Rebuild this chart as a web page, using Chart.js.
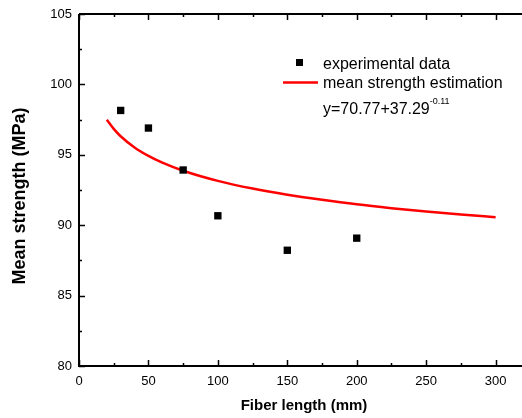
<!DOCTYPE html>
<html>
<head>
<meta charset="utf-8">
<script src="https://cdn.jsdelivr.net/npm/chart.js@4/dist/chart.umd.min.js"></script>
<style>
    html, body { margin: 0; padding: 0; background: #fff; }
    #wrap { width: 522px; height: 418px; position: relative; }
</style>
</head>
<body>
<div id="wrap"><canvas id="strengthChart"></canvas></div>
<script>
// ===========================
// Data
// ===========================

const fiberLength = [30, 50, 75, 100, 150, 200];
const meanStrength = [98.15, 96.9, 93.92, 90.67, 88.22, 89.08];

const fitLength = [20, 25, 30, 40, 50, 60, 75, 100, 125, 150, 175, 200, 225, 250, 275, 300];
const fitStrength = [97.49, 96.84, 96.32, 95.52, 94.92, 94.44, 93.87, 93.15, 92.6, 92.16, 91.8, 91.48, 91.21, 90.97, 90.76, 90.57];

const xTicks = [0, 50, 100, 150, 200, 250, 300];
const xMinorTicks = [25, 75, 125, 175, 225, 275];
const yTicks = [80, 85, 90, 95, 100, 105];
const yMinorTicks = [82.5, 87.5, 92.5, 97.5, 102.5];

const FONT = '"Liberation Sans", Arial, sans-serif';

// ===========================
// Frame, inward ticks, titles and legend
// ===========================

const framePlugin = {
    id: 'frame',
    afterDraw(chart) {
        const { ctx, chartArea: a, scales: { x, y } } = chart;
        ctx.save();
        ctx.strokeStyle = '#000';
        ctx.lineWidth = 2;
        ctx.beginPath();
        ctx.moveTo(a.left, a.top);
        ctx.lineTo(a.left, a.bottom);
        ctx.lineTo(chart.width, a.bottom);
        ctx.moveTo(a.left, a.top);
        ctx.lineTo(chart.width, a.top);
        ctx.stroke();

        ctx.lineWidth = 1.5;
        ctx.beginPath();
        const xTick = (v, len) => {
            const px = Math.round(x.getPixelForValue(v)) + 0.5;
            ctx.moveTo(px, a.bottom); ctx.lineTo(px, a.bottom - len);
            ctx.moveTo(px, a.top); ctx.lineTo(px, a.top + len);
        };
        const yTick = (v, len) => {
            const py = Math.round(y.getPixelForValue(v)) + 0.5;
            ctx.moveTo(a.left, py); ctx.lineTo(a.left + len, py);
        };
        xTicks.forEach(v => xTick(v, 6));
        xMinorTicks.forEach(v => xTick(v, 3));
        yTicks.forEach(v => yTick(v, 6));
        yMinorTicks.forEach(v => yTick(v, 3));
        ctx.stroke();

        // Axis titles
        ctx.fillStyle = '#000';
        ctx.textAlign = 'center';
        ctx.textBaseline = 'middle';
        ctx.font = 'bold 15px ' + FONT;
        ctx.fillText('Fiber length (mm)', 304, 406);
        ctx.save();
        ctx.translate(20.5, 196);
        ctx.rotate(-Math.PI / 2);
        ctx.font = 'bold 18px ' + FONT;
        ctx.fillText('Mean strength (MPa)', 0, 0);
        ctx.restore();

        // Legend
        ctx.fillStyle = '#000';
        ctx.fillRect(296, 59, 7, 7);
        ctx.strokeStyle = '#ff0000';
        ctx.lineWidth = 2.5;
        ctx.beginPath();
        ctx.moveTo(283, 82.5);
        ctx.lineTo(318, 82.5);
        ctx.stroke();

        ctx.textAlign = 'left';
        ctx.textBaseline = 'alphabetic';
        ctx.font = '16px ' + FONT;
        ctx.fillText('experimental data', 323, 69);
        ctx.fillText('mean strength estimation', 323, 88);
        ctx.fillText('y=70.77+37.29', 323, 114);
        const w = ctx.measureText('y=70.77+37.29').width;
        ctx.font = '9px ' + FONT;
        ctx.fillText('-0.11', 323 + w, 104);
        ctx.restore();
    }
};

// ===========================
// Chart
// ===========================

const ctx = document.getElementById('strengthChart');

new Chart(ctx, {
    type: 'scatter',
    data: {
        datasets: [{
            label: 'experimental data',
            data: fiberLength.map((v, i) => ({ x: v, y: meanStrength[i] })),
            pointStyle: 'rect',
            pointRadius: 5.2,
            pointHoverRadius: 5.2,
            backgroundColor: '#000',
            borderWidth: 0
        }, {
            label: 'mean strength estimation',
            data: fitLength.map((v, i) => ({ x: v, y: fitStrength[i] })),
            showLine: true,
            pointRadius: 0,
            borderColor: '#ff0000',
            borderWidth: 2.5,
            cubicInterpolationMode: 'monotone'
        }]
    },
    options: {
        responsive: true,
        maintainAspectRatio: false,
        animation: false,
        layout: {
            autoPadding: false,
            padding: { top: 14, right: 0, left: 0, bottom: 0 }
        },
        plugins: {
            legend: { display: false },
            tooltip: { enabled: false }
        },
        scales: {
            x: {
                type: 'linear',
                min: 0,
                max: 319,
                afterFit(scale) {
                    scale.height = 52;
                    scale.paddingLeft = 0;
                    scale.paddingRight = 0;
                },
                afterBuildTicks(scale) { scale.ticks = xTicks.map(v => ({ value: v })); },
                grid: { display: false, drawTicks: false },
                border: { display: false },
                ticks: {
                    padding: 8,
                    color: '#000',
                    font: { family: FONT, size: 13 }
                }
            },
            y: {
                min: 80,
                max: 105,
                afterFit(scale) {
                    scale.width = 79;
                    scale.paddingTop = 0;
                    scale.paddingBottom = 0;
                },
                afterBuildTicks(scale) { scale.ticks = yTicks.map(v => ({ value: v })); },
                grid: { display: false, drawTicks: false },
                border: { display: false },
                ticks: {
                    padding: 7,
                    color: '#000',
                    font: { family: FONT, size: 13 }
                }
            }
        }
    },
    plugins: [framePlugin]
});
</script>
</body>
</html>
